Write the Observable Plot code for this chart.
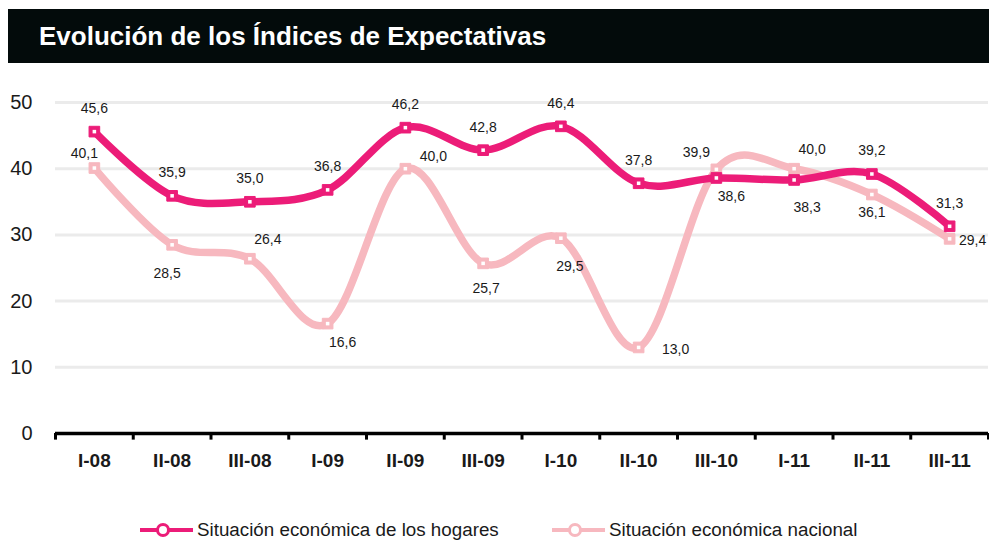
<!DOCTYPE html>
<html>
<head>
<meta charset="utf-8">
<script src="https://cdn.jsdelivr.net/npm/d3@7"></script>
<script src="https://cdn.jsdelivr.net/npm/@observablehq/plot@0.6"></script>
<style>
  html, body { margin: 0; padding: 0; background: #ffffff; }
  body { width: 989px; height: 540px; position: relative; overflow: hidden; font-family: "Liberation Sans", Arial, sans-serif; }
  #title { position: absolute; left: 8px; top: 9px; width: 981px; height: 54px; background: #030b0b; color: #ffffff;
           font-weight: bold; font-size: 26px; line-height: 54px; box-sizing: border-box; padding-left: 31px; }
  #chart { position: absolute; left: 0; top: 70px; }
  .leg { position: absolute; top: 519px; height: 22px; font-size: 18.8px; color: #1a1a1a; white-space: nowrap; }
  .leg .ln { position: absolute; top: 9px; height: 4px; width: 53px; }
  .leg .mk { position: absolute; top: 4px; width: 8px; height: 8px; border-radius: 50%; background: #fff; border: 3px solid; left: 16px; }
  .leg .tx { position: absolute; left: 57px; top: 0; line-height: 22px; }
</style>
</head>
<body>
<div id="title">Evolución de los Índices de Expectativas</div>
<div id="chart"></div>
<div class="leg" style="left:140px"><span class="ln" style="background:#ec1c78"></span><span class="mk" style="border-color:#ec1c78"></span><span class="tx">Situación económica de los hogares</span></div>
<div class="leg" style="left:552px"><span class="ln" style="background:#f7b8bf"></span><span class="mk" style="border-color:#f7b8bf"></span><span class="tx">Situación económica nacional</span></div>
<script>
const categories = ["I-08","II-08","III-08","I-09","II-09","III-09","I-10","II-10","III-10","I-11","II-11","III-11"];
const hogares  = [45.6, 35.9, 35.0, 36.8, 46.2, 42.8, 46.4, 37.8, 38.6, 38.3, 39.2, 31.3];
const nacional = [40.1, 28.5, 26.4, 16.6, 40.0, 25.7, 29.5, 13.0, 39.9, 40.0, 36.1, 29.4];
const hogaresLabelPos  = ["N","N","N","N","N","N","N","N","SE","SE2","N","N"];
const nacionalLabelPos = ["NW","SW","NE","SE","NE2","S","S2","E","NW2","NE","S3","E2"];
const yTicks = [0, 10, 20, 30, 40, 50];

const colorHogares = "#ec1c78";
const colorNacional = "#f7b8bf";

// label placement keywords -> nudges
const nudge = {
  N: [0, -23], S: [3, 25], S2: [9, 28], S3: [0, 18],
  NE: [18, -19], NE2: [28, -12], SE: [15, 19], SE2: [13, 28],
  E: [37, 2], E2: [23, 2], NW: [-10, -15], NW2: [-20, -17], SW: [-5, 29]
};

const rows = (vals, pos, series) => vals.map((v, i) => ({x: i + 0.5, y: v, pos: pos[i], series, label: v.toFixed(1).replace(".", ",")}));
const dataH = rows(hogares, hogaresLabelPos, "h");
const dataN = rows(nacional, nacionalLabelPos, "n");
const allData = dataN.concat(dataH);

const labelMarks = [];
for (const [key, [dx, dy]] of Object.entries(nudge)) {
  labelMarks.push(Plot.text(allData, {
    filter: d => d.pos === key, x: "x", y: "y", text: "label", dx, dy,
    fontSize: 14, fill: "#1a1a1a", fontFamily: "Liberation Sans, Arial, sans-serif"
  }));
}

const seriesMarks = (data, color) => [
  Plot.line(data, {x: "x", y: "y", curve: "cardinal", tension: 0, stroke: color, strokeWidth: 7.5, strokeLinejoin: "round"}),
  Plot.dot(data, {x: "x", y: "y", symbol: "square", r: 6, fill: color, stroke: color, strokeWidth: 1}),
  Plot.dot(data, {x: "x", y: "y", symbol: "square", r: 2, fill: "#ffffff"})
];

const chart = Plot.plot({
  width: 989,
  height: 420,
  marginLeft: 55,
  marginRight: 1,
  marginTop: 32,
  marginBottom: 57,
  style: {fontFamily: "Liberation Sans, Arial, sans-serif", background: "transparent", color: "#1a1a1a"},
  x: {domain: [0, categories.length], axis: null},
  y: {domain: [0, 50], axis: null},
  marks: [
    Plot.ruleY(yTicks.filter(d => d > 0), {stroke: "#ebebeb", strokeWidth: 3}),
    Plot.axisY(yTicks, {tickSize: 0, tickPadding: 23, fontSize: 20, fill: "#1a1a1a", label: null}),
    Plot.axisX(categories.map((c, i) => i + 0.5), {
      tickSize: 0, tickPadding: 20, fontSize: 19, fontWeight: "bold", fill: "#1a1a1a", label: null,
      tickFormat: d => categories[Math.floor(d)]
    }),
    Plot.ruleX(d3.range(categories.length + 1), {y1: 0, y2: -1, stroke: "#000", strokeWidth: 3}),
    Plot.ruleY([0], {stroke: "#000", strokeWidth: 3.5}),
    ...seriesMarks(dataN, colorNacional),
    ...seriesMarks(dataH, colorHogares),
    ...labelMarks
  ]
});
document.getElementById("chart").appendChild(chart);
</script>
</body>
</html>
